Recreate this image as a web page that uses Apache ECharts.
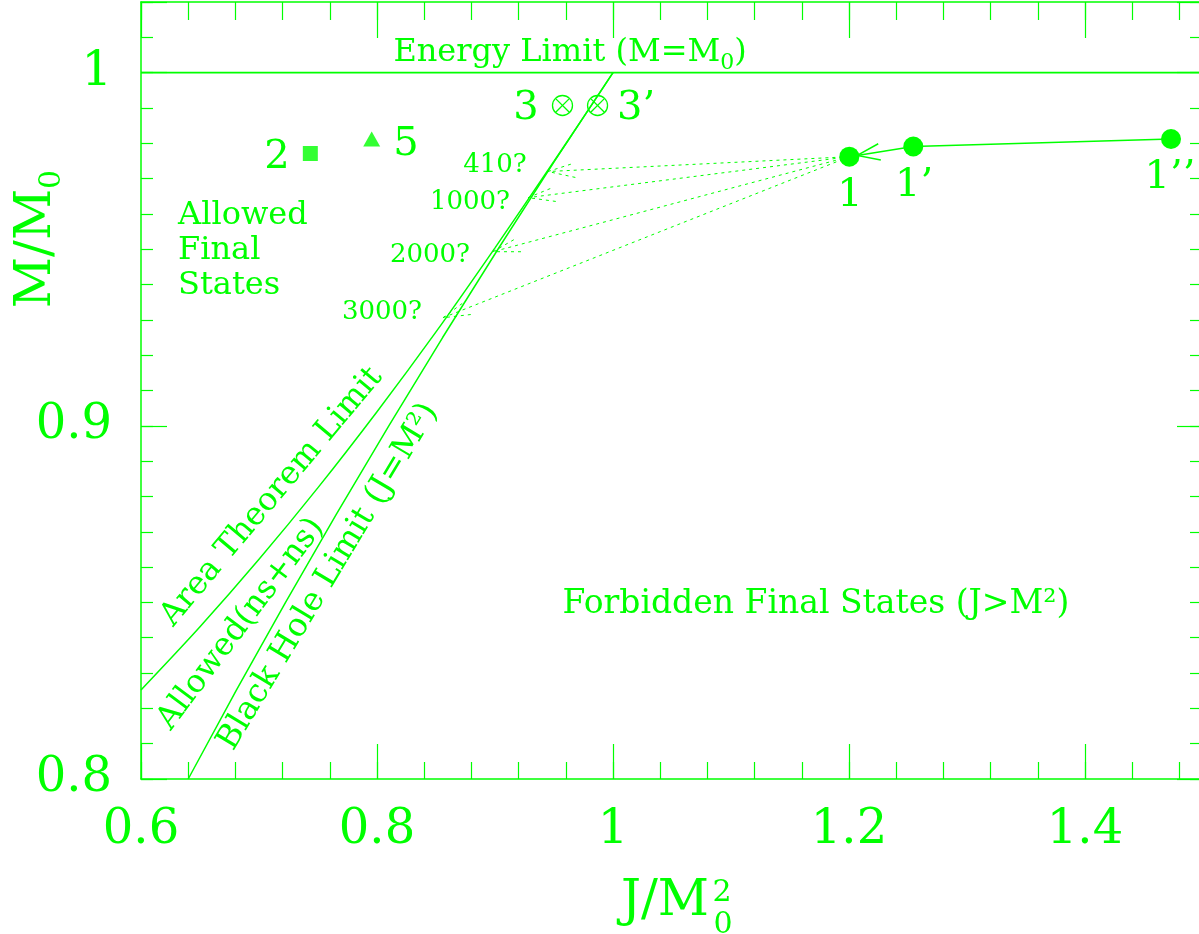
<!DOCTYPE html>
<html>
<head>
<meta charset="utf-8">
<script src="https://cdn.jsdelivr.net/npm/echarts@6/dist/echarts.min.js"></script>
<style>
html,body{margin:0;padding:0;background:#ffffff;}
#chart{width:1199px;height:934px;}
</style>
</head>
<body>
<div id="chart"></div>
<script>
// ---------------- data ----------------
const xTickLabels = ['0.6', '0.8', '1', '1.2', '1.4'];
const yTickLabels = ['0.8', '0.9', '1'];

const energyLimitJ = [0.6, 1.5];
const energyLimitM = [1.0, 1.0];

const blackHoleJ = [0.64, 0.6806, 0.7225, 0.7656, 0.81, 0.8556, 0.9025, 0.9506, 1.0];
const blackHoleM = [0.80, 0.825, 0.85, 0.875, 0.90, 0.925, 0.95, 0.975, 1.0];

const areaJ = [0.6, 0.65, 0.7, 0.75, 0.8, 0.85, 0.9, 0.95, 0.975, 1.0];
const areaM = [0.8252, 0.8431, 0.8622, 0.8825, 0.904, 0.9266, 0.9504, 0.9749, 0.9874, 1.0];

// evolution track 1'' -> 1' -> 1
const trackJ = [1.4729, 1.2545, 1.2003];
const trackM = [0.9812, 0.9791, 0.9762];

const model2J = [0.7435], model2M = [0.9771];   // square
const model5J = [0.7955], model5M = [0.9812];   // triangle
const model3J = [0.9572, 0.9869], model3M = [0.9907, 0.9907]; // circled crosses

const guessLabels = ['410?', '1000?', '2000?', '3000?'];
const guessJ = [0.9449, 0.928, 0.8983, 0.8559];
const guessM = [0.972, 0.9646, 0.9493, 0.9306];

// ---------------- style ----------------
const GREEN = '#00ff00';
const FONT = 'DejaVu Serif';
const xMin = 0.6, xMax = 1.5, xMajor = 0.2, xMinor = 0.04;
const yMin = 0.8, yMax = 1.02, yMajor = 0.1, yMinor = 0.01;

function pick(labels, v, min, step) {
  const k = Math.round((v - min) / step);
  if (Math.abs(v - (min + k * step)) < 1e-6 && k >= 0 && k < labels.length) return labels[k];
  return '';
}

function xAx(pos, interval, tickLen, showLabel, showLine) {
  return {
    type: 'value', position: pos, min: xMin, max: xMax, interval: interval,
    axisLine: { show: showLine, onZero: false, lineStyle: { color: GREEN, width: 1.5 } },
    axisTick: { show: true, inside: true, length: tickLen, lineStyle: { color: GREEN, width: 1.2 } },
    axisLabel: { show: showLabel, color: GREEN, fontFamily: FONT, fontSize: 48, margin: 28,
      formatter: v => pick(xTickLabels, v, xMin, xMajor) },
    splitLine: { show: false }, minorTick: { show: false }, minorSplitLine: { show: false }
  };
}
function yAx(pos, interval, tickLen, showLabel, showLine) {
  return {
    type: 'value', position: pos, min: yMin, max: yMax, interval: interval,
    axisLine: { show: showLine, onZero: false, lineStyle: { color: GREEN, width: 1.5 } },
    axisTick: { show: true, inside: true, length: tickLen, lineStyle: { color: GREEN, width: 1.2 } },
    axisLabel: { show: showLabel, color: GREEN, fontFamily: FONT, fontSize: 48, margin: 29,
      formatter: v => pick(yTickLabels, v, yMin, yMajor) },
    splitLine: { show: false }, minorTick: { show: false }, minorSplitLine: { show: false }
  };
}

const zip = (a, b) => a.map((v, i) => [v, b[i]]);

// annotation texts (anchor in data coordinates)
const texts = [
  { t: 'Energy Limit (M=M{s|0})', at: [0.9636, 1.0057], size: 32, lh: 44, subSize: 22, subLh: 18 },
  { t: '3', at: [0.9263, 0.9897], size: 40 },
  { t: '3\u2019', at: [1.0195, 0.9897], size: 40 },
  { t: '2', at: [0.7153, 0.9758], size: 40 },
  { t: '5', at: [0.8246, 0.9795], size: 40 },
  { t: '1', at: [1.2008, 0.9653], size: 40 },
  { t: '1\u2019', at: [1.2551, 0.9679], size: 40 },
  { t: '1\u2019\u2019', at: [1.472, 0.9702], size: 40 },
  { t: guessLabels[0], at: [0.9, 0.9738], size: 26 },
  { t: guessLabels[1], at: [0.8788, 0.9634], size: 26 },
  { t: guessLabels[2], at: [0.8449, 0.9484], size: 26 },
  { t: guessLabels[3], at: [0.8042, 0.9322], size: 26 },
  { t: 'Allowed\nFinal\nStates', at: [0.6314, 0.9495], size: 32, lh: 35, align: 'left' },
  { t: 'Forbidden Final States (J>M\u00b2)', at: [1.172, 0.8495], size: 33 },
  { t: 'Area Theorem Limit', at: [0.7108, 0.8799], size: 32, rot: 50 },
  { t: 'Allowed(ns+ns)', at: [0.6847, 0.8439], size: 32, rot: 53 },
  { t: 'Black Hole Limit (J=M\u00b2)', at: [0.7587, 0.8573], size: 32.5, rot: 59 }
];

function arrowRender(opt) {
  return function (params, api) {
    const p0 = api.coord([api.value(0), api.value(1)]);
    const p1 = api.coord([api.value(2), api.value(3)]);
    const dx = p0[0] - p1[0], dy = p0[1] - p1[1];
    const len = Math.hypot(dx, dy) || 1;
    const ux = dx / len, uy = dy / len;
    const tip = [p1[0] + ux * opt.tipOffset, p1[1] + uy * opt.tipOffset];
    const a = opt.angle * Math.PI / 180, c = Math.cos(a), s = Math.sin(a);
    const w1 = [tip[0] + opt.headLen * (ux * c - uy * s), tip[1] + opt.headLen * (ux * s + uy * c)];
    const w2 = [tip[0] + opt.headLen * (ux * c + uy * s), tip[1] + opt.headLen * (-ux * s + uy * c)];
    const style = { stroke: GREEN, lineWidth: opt.lw, lineDash: opt.dash || null, fill: null };
    const children = [];
    if (opt.shaft) children.push({ type: 'line', shape: { x1: p0[0], y1: p0[1], x2: tip[0], y2: tip[1] }, style: style });
    children.push({ type: 'polyline', shape: { points: [w1, tip, w2] }, style: style });
    return { type: 'group', children: children };
  };
}

const option = {
  animation: false,
  backgroundColor: '#ffffff',
  grid: { left: 141, right: -4, top: 2, bottom: 155, containLabel: false, outerBoundsMode: 'none' },
  xAxis: [
    xAx('bottom', xMajor, 35, true, true),
    xAx('bottom', xMinor, 17, false, false),
    xAx('top', xMajor, 36, false, true),
    xAx('top', xMinor, 18, false, false)
  ],
  yAxis: [
    yAx('left', yMajor, 26, true, true),
    yAx('left', yMinor, 12, false, false),
    yAx('right', yMajor, 26, false, true),
    yAx('right', yMinor, 13, false, false)
  ],
  graphic: [
    { type: 'text', x: 709, y: 902, style: { text: 'J/M', fill: GREEN, fontFamily: FONT, fontSize: 50, align: 'right', verticalAlign: 'middle' } },
    { type: 'text', x: 722, y: 893, style: { text: '2', fill: GREEN, fontFamily: FONT, fontSize: 30, align: 'center', verticalAlign: 'middle' } },
    { type: 'text', x: 723, y: 925, style: { text: '0', fill: GREEN, fontFamily: FONT, fontSize: 30, align: 'center', verticalAlign: 'middle' } },
    { type: 'text', x: 37, y: 239, rotation: Math.PI / 2,
      style: { text: 'M/M{s|0}', fill: GREEN, fontFamily: FONT, fontSize: 50, lineHeight: 60, align: 'center', verticalAlign: 'middle',
        rich: { s: { fontSize: 30, lineHeight: 22, verticalAlign: 'bottom', fill: GREEN, fontFamily: FONT } } } }
  ],
  series: [
    { name: 'Energy Limit', type: 'line', data: zip(energyLimitJ, energyLimitM), showSymbol: false, symbol: 'none',
      lineStyle: { color: GREEN, width: 1.6 }, z: 3 },
    { name: 'Black Hole Limit', type: 'line', data: zip(blackHoleJ, blackHoleM), showSymbol: false, symbol: 'none',
      lineStyle: { color: GREEN, width: 1.5 }, z: 3 },
    { name: 'Area Theorem Limit', type: 'line', data: zip(areaJ, areaM), showSymbol: false, symbol: 'none', smooth: 0.3,
      lineStyle: { color: GREEN, width: 1.5 }, z: 3 },
    { name: 'guess arrows', type: 'custom', renderItem: arrowRender({ tipOffset: 0, headLen: 28, angle: 15, lw: 1, dash: [3, 4], shaft: true }),
      data: guessJ.map((v, i) => [trackJ[2], trackM[2], v, guessM[i]]), encode: { x: [0, 2], y: [1, 3] }, z: 4 },
    { name: 'track', type: 'line', data: zip(trackJ, trackM), symbol: 'circle', symbolSize: 20, showSymbol: true,
      itemStyle: { color: GREEN }, lineStyle: { color: GREEN, width: 1.5 }, z: 6 },
    { name: 'track arrow', type: 'custom', renderItem: arrowRender({ tipOffset: 8, headLen: 24, angle: 20, lw: 1.5, shaft: false }),
      data: [[trackJ[1], trackM[1], trackJ[2], trackM[2]]], encode: { x: [0, 2], y: [1, 3] }, z: 7 },
    { name: 'model 2', type: 'scatter', data: zip(model2J, model2M), symbol: 'rect', symbolSize: 15, itemStyle: { color: GREEN }, z: 6 },
    { name: 'model 5', type: 'scatter', data: zip(model5J, model5M), symbol: 'triangle', symbolSize: [17, 15], itemStyle: { color: GREEN }, z: 6 },
    { name: 'model 3', type: 'custom', data: zip(model3J, model3M), z: 6,
      renderItem: function (params, api) {
        const p = api.coord([api.value(0), api.value(1)]);
        const r = 10, d = r * Math.SQRT1_2;
        const st = { stroke: GREEN, lineWidth: 1.3, fill: null };
        return { type: 'group', children: [
          { type: 'circle', shape: { cx: p[0], cy: p[1], r: r }, style: st },
          { type: 'line', shape: { x1: p[0] - d, y1: p[1] - d, x2: p[0] + d, y2: p[1] + d }, style: st },
          { type: 'line', shape: { x1: p[0] - d, y1: p[1] + d, x2: p[0] + d, y2: p[1] - d }, style: st }
        ] };
      } },
    { name: 'annotations', type: 'custom', data: texts.map((t, i) => [t.at[0], t.at[1], i]), z: 8, clip: false,
      renderItem: function (params, api) {
        const t = texts[params.dataIndex];
        const p = api.coord([api.value(0), api.value(1)]);
        return { type: 'text', x: p[0], y: p[1], rotation: (t.rot || 0) * Math.PI / 180,
          style: { text: t.t, fill: GREEN, fontFamily: FONT, fontSize: t.size, lineHeight: t.lh || Math.round(t.size * 1.2),
            align: t.align || 'center', verticalAlign: 'middle',
            rich: { s: { fontSize: t.subSize || 20, lineHeight: t.subLh || 16, verticalAlign: 'bottom', fill: GREEN, fontFamily: FONT } } } };
      } }
  ]
};

const chart = echarts.init(document.getElementById('chart'), null, { renderer: 'canvas' });
chart.setOption(option);
</script>
</body>
</html>
